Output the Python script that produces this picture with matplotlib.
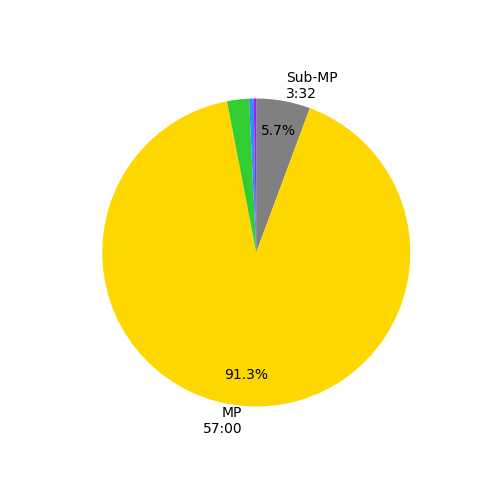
import matplotlib
matplotlib.use("Agg")
import matplotlib.pyplot as plt

labels = ["Sub-MP\n3:32", "MP\n57:00", "", "", ""]
seconds = [212, 3420, 86, 18, 10]
colors = ["#808080", "#FFD700", "#32CD32", "#3B8BFF", "#A020F0"]


def pct(p):
    return f"{p:.1f}%" if p > 5 else ""


fig, ax = plt.subplots(figsize=(5, 5), dpi=100)
ax.pie(seconds, labels=labels, colors=colors, autopct=pct,
       startangle=90, counterclock=False, pctdistance=0.8)
fig.savefig("out.png", dpi=100)
